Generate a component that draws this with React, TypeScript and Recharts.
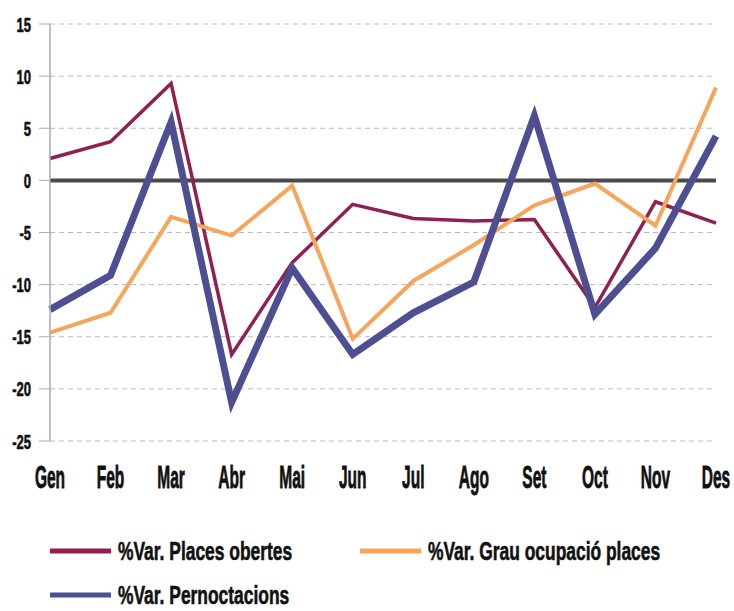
import React from 'react'
import { LineChart, Line, XAxis, YAxis, CartesianGrid, ReferenceLine } from 'recharts'

const months = ['Gen', 'Feb', 'Mar', 'Abr', 'Mai', 'Jun', 'Jul', 'Ago', 'Set', 'Oct', 'Nov', 'Des']
const placesObertes = [2.1, 3.7, 9.3, -16.7, -7.9, -2.3, -3.65, -3.9, -3.75, -12.2, -2.05, -4.1]
const grauOcupacio = [-14.6, -12.7, -3.5, -5.3, -0.5, -15.2, -9.65, -6.2, -2.4, -0.3, -4.35, 8.9]
const pernoctacions = [-12.4, -9.1, 5.6, -21.3, -8.4, -16.7, -12.7, -9.75, 6.2, -12.85, -6.5, 4.25]
const yTicks = [-25, -20, -15, -10, -5, 0, 5, 10, 15]

const series = [
  { key: 'places', name: '%Var. Places obertes', color: '#8E2150', width: 3.5 },
  { key: 'grau', name: '%Var. Grau ocupació places', color: '#F6A55C', width: 4 },
  { key: 'pern', name: '%Var. Pernoctacions', color: '#4E4F92', width: 7 },
]

const data = months.map((m, i) => ({
  month: m,
  places: placesObertes[i],
  grau: grauOcupacio[i],
  pern: pernoctacions[i],
}))

const FONT = '"Liberation Sans", Arial, sans-serif'

const XTick = (props: any) => {
  const { x, y, payload } = props
  return (
    <g transform={`translate(${x},${y + 47}) scale(0.5,1)`}>
      <text textAnchor="middle" fontFamily={FONT} fontWeight="bold" fontSize={31} fill="#111" stroke="#111" strokeWidth={0.8}>
        {payload.value}
      </text>
    </g>
  )
}

const YTick = (props: any) => {
  const { x, y, payload } = props
  return (
    <g transform={`translate(${x},${y + 7.5}) scale(0.62,1)`}>
      <text textAnchor="end" fontFamily={FONT} fontWeight="bold" fontSize={21} fill="#111" stroke="#111" strokeWidth={0.6}>
        {payload.value}
      </text>
    </g>
  )
}

// legend rows, drawn below the chart
const legendPos = [
  { x: 50, y: 31 },
  { x: 360, y: 31 },
  { x: 50, y: 75 },
]

export default function App() {
  return (
    <div style={{ position: 'absolute', left: 0, top: 0, width: 734, height: 611, background: '#fff' }}>
      <LineChart width={734} height={520} data={data} margin={{ top: 24, right: 18, left: 0, bottom: 19 }}>
        <CartesianGrid vertical={false} stroke="#bbb" strokeDasharray="5 4" />
        <XAxis dataKey="month" axisLine={false} tickLine={false} tickSize={0} tickMargin={0} height={60} tick={<XTick />} interval={0} />
        <YAxis
          width={50}
          domain={[-25, 15]}
          ticks={yTicks}
          interval={0}
          axisLine={{ stroke: '#aaa', strokeWidth: 1.5 }}
          tickLine={{ stroke: '#aaa' }}
          tickSize={11}
          tickMargin={8}
          tick={<YTick />}
        />
        <ReferenceLine y={0} stroke="#4a4a4a" strokeWidth={4} />
        {series.map((s) => (
          <Line
            key={s.key}
            dataKey={s.key}
            name={s.name}
            stroke={s.color}
            strokeWidth={s.width}
            dot={false}
            activeDot={false}
            type="linear"
            isAnimationActive={false}
          />
        ))}
      </LineChart>
      <svg width={734} height={91} style={{ position: 'absolute', left: 0, top: 520 }}>
        {series.map((s, i) => (
          <g key={s.key} transform={`translate(${legendPos[i].x},${legendPos[i].y})`}>
            <line x1={0} x2={61} y1={0} y2={0} stroke={s.color} strokeWidth={5} />
            <g transform="translate(68,9) scale(0.67,1)">
              <text fontFamily={FONT} fontWeight="bold" fontSize={26} fill="#111" stroke="#111" strokeWidth={0.6}>
                {s.name}
              </text>
            </g>
          </g>
        ))}
      </svg>
    </div>
  )
}
